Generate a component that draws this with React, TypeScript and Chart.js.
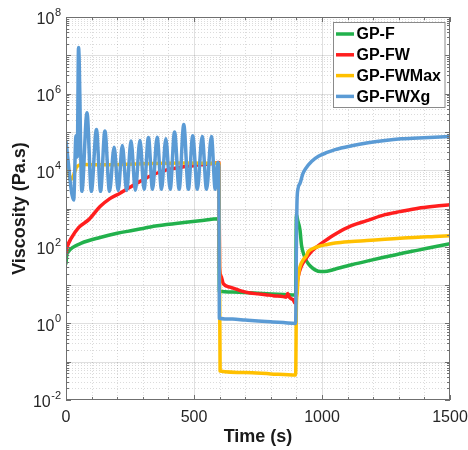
import React, { useEffect, useRef } from 'react';
import { Chart, registerables } from 'chart.js';

Chart.register(...registerables);

const FONT = '"Liberation Sans", Arial, Helvetica, sans-serif';

const seriesNames = ['GP-F', 'GP-FW', 'GP-FWMax', 'GP-FWXg'];
const seriesColors = ['#22B14C', '#FF1E1E', '#FFC000', '#5B9BD5'];

// GP-F
const fTime = [0, 3, 10, 25, 60, 133, 200, 263, 330, 393, 460, 523, 597, 599, 650, 750, 850, 897, 900, 905, 914, 920, 930, 940, 955, 973, 995, 1020, 1050, 1116, 1180, 1246, 1310, 1376, 1440, 1500];
const fValue = [37, 62, 76, 95, 125, 175, 225, 270, 330, 380, 430, 480, 540, 6.9, 6.6, 6.1, 5.7, 5.5, 700, 500, 275, 110, 60, 42, 31, 25, 22.5, 23, 26, 34, 43, 54, 67, 82, 100, 120];

// GP-FW
const fwTime = [0, 5, 20, 50, 90, 133, 170, 211, 250, 289, 340, 393, 460, 523, 589, 597, 600, 606, 614, 640, 680, 719, 750, 780, 810, 849, 860, 866, 872, 880, 888, 894, 898, 902, 907, 920, 934, 955, 980, 1010, 1051, 1116, 1175, 1246, 1305, 1376, 1440, 1500];
const fwValue = [70, 100, 165, 320, 520, 1120, 1780, 2500, 3600, 5100, 7600, 10200, 12300, 13800, 15500, 15800, 30, 17, 11, 8.9, 7.2, 6.2, 5.9, 5.6, 5.3, 5.0, 4.8, 6.0, 4.9, 4.4, 4.1, 3.4, 3.9, 10, 16.6, 32, 46, 71, 100, 141, 214, 355, 480, 690, 830, 1020, 1150, 1260];

// GP-FWMax
const fwMaxTime = [0, 8, 17, 28, 43, 70, 150, 300, 450, 597, 602, 700, 800, 897, 900, 903, 907, 914, 927, 940, 947, 965, 986, 1020, 1051, 1116, 1175, 1246, 1305, 1376, 1440, 1500];
const fwMaxValue = [23000, 11000, 5600, 7000, 12600, 14100, 13800, 14800, 15500, 15100, 0.057, 0.052, 0.048, 0.045, 3, 6, 16, 30, 46, 60, 76, 90, 102, 115, 126, 138, 146, 158, 166, 178, 186, 195];

// GP-FWXg
const fwXgTime = [0, 30, 39, 44, 49, 62, 82, 99, 119, 135, 152, 170, 188, 204, 220, 237, 254, 271, 289, 305, 322, 338, 356, 373, 390, 407, 424, 442, 460, 478, 495, 513, 532, 549, 568, 583, 593, 597, 599, 650, 700, 750, 800, 850, 897, 900, 902, 906, 914, 925, 934, 960, 986, 1020, 1051, 1116, 1180, 1246, 1310, 1376, 1440, 1500];
const fwXgValue = [56000, 1660, 79000, 22000, 16000000, 2800, 316000, 2800, 115000, 2800, 105000, 2800, 40000, 2950, 44000, 2950, 57500, 3000, 60000, 3160, 71000, 3160, 72000, 3160, 66000, 3160, 100000, 3160, 155000, 3160, 79000, 3160, 76000, 3160, 76000, 3160, 15800, 12600, 1.37, 1.3, 1.22, 1.15, 1.1, 1.05, 1.0, 100, 1200, 3200, 4500, 8000, 10500, 17000, 23000, 29000, 34500, 43500, 52000, 60000, 66000, 69000, 72000, 76000];

const xMin = 0;
const xMax = 1500;
const xMinorStep = 100;
const xLabelStep = 500;
const yMinExp = -2;
const yMaxExp = 8;
const yLabelExponents = [-2, 0, 2, 4, 6, 8];

const seriesTimes = [fTime, fwTime, fwMaxTime, fwXgTime];
const seriesValues = [fValue, fwValue, fwMaxValue, fwXgValue];

const BOX_COLOR = '#6f6f6f';
const TEXT_COLOR = '#262626';

const matlabPlugin = {
  id: 'matlabAxes',
  beforeDatasetsDraw(chart: any) {
    const { ctx, chartArea, scales } = chart;
    const { left, right, top, bottom } = chartArea;
    const xs = scales.x;
    const ys = scales.y;
    ctx.save();
    ctx.lineWidth = 1;
    // minor grid (dotted)
    ctx.strokeStyle = 'rgba(0,0,0,0.14)';
    ctx.setLineDash([1, 2]);
    ctx.beginPath();
    for (let t = xMin + xMinorStep; t < xMax; t += xMinorStep) {
      if (t % xLabelStep === 0) continue;
      const px = Math.round(xs.getPixelForValue(t)) + 0.5;
      ctx.moveTo(px, top);
      ctx.lineTo(px, bottom);
    }
    for (let e = yMinExp; e < yMaxExp; e++) {
      for (let k = 2; k <= 9; k++) {
        const py = Math.round(ys.getPixelForValue(k * Math.pow(10, e))) + 0.5;
        ctx.moveTo(left, py);
        ctx.lineTo(right, py);
      }
    }
    ctx.stroke();
    // major grid (solid)
    ctx.setLineDash([]);
    ctx.strokeStyle = 'rgba(0,0,0,0.12)';
    ctx.beginPath();
    for (let t = xMin + xLabelStep; t < xMax; t += xLabelStep) {
      const px = Math.round(xs.getPixelForValue(t)) + 0.5;
      ctx.moveTo(px, top);
      ctx.lineTo(px, bottom);
    }
    for (let e = yMinExp + 1; e < yMaxExp; e++) {
      const py = Math.round(ys.getPixelForValue(Math.pow(10, e))) + 0.5;
      ctx.moveTo(left, py);
      ctx.lineTo(right, py);
    }
    ctx.stroke();
    ctx.restore();
  },
  afterDatasetsDraw(chart: any) {
    const { ctx, chartArea, scales } = chart;
    const { left, right, top, bottom } = chartArea;
    const xs = scales.x;
    const ys = scales.y;
    ctx.save();
    // box
    ctx.strokeStyle = BOX_COLOR;
    ctx.lineWidth = 1;
    ctx.strokeRect(left + 0.5, top + 0.5, right - left - 1, bottom - top - 1);
    // ticks
    ctx.beginPath();
    for (let t = xMin; t <= xMax; t += xMinorStep) {
      const len = t % xLabelStep === 0 ? 5 : 3;
      const px = Math.round(xs.getPixelForValue(t)) + 0.5;
      ctx.moveTo(px, bottom);
      ctx.lineTo(px, bottom - len);
      ctx.moveTo(px, top);
      ctx.lineTo(px, top + len);
    }
    for (let e = yMinExp; e <= yMaxExp; e++) {
      for (let k = 1; k <= 9; k++) {
        if (e === yMaxExp && k > 1) break;
        const len = k === 1 ? 5 : 3;
        const py = Math.round(ys.getPixelForValue(k * Math.pow(10, e))) + 0.5;
        ctx.moveTo(left, py);
        ctx.lineTo(left + len, py);
        ctx.moveTo(right, py);
        ctx.lineTo(right - len, py);
      }
    }
    ctx.stroke();
    // y tick labels with superscript exponents
    ctx.fillStyle = TEXT_COLOR;
    ctx.textBaseline = 'middle';
    for (const e of yLabelExponents) {
      const py = ys.getPixelForValue(Math.pow(10, e));
      const expText = String(e);
      ctx.font = `11px ${FONT}`;
      const ew = ctx.measureText(expText).width;
      const ex = left - 5 - ew;
      ctx.textAlign = 'left';
      ctx.fillText(expText, ex, py - 4);
      ctx.font = `16px ${FONT}`;
      ctx.textAlign = 'right';
      ctx.fillText('10', ex - 0.5, py + 3);
    }
    // legend
    const lx = 333.5;
    const ly = 22.5;
    const lw = 111.5;
    const lh = 85;
    ctx.fillStyle = '#ffffff';
    ctx.fillRect(lx, ly, lw, lh);
    ctx.strokeStyle = '#8a8a8a';
    ctx.lineWidth = 1;
    ctx.strokeRect(lx, ly, lw, lh);
    ctx.font = `bold 16px ${FONT}`;
    ctx.textAlign = 'left';
    ctx.textBaseline = 'middle';
    seriesNames.forEach((name, i) => {
      const cy = 34 + i * 20.8;
      ctx.strokeStyle = seriesColors[i];
      ctx.lineWidth = 3.5;
      ctx.beginPath();
      ctx.moveTo(336, cy);
      ctx.lineTo(354, cy);
      ctx.stroke();
      ctx.fillStyle = '#000000';
      ctx.fillText(name, 356.5, cy + 1);
    });
    ctx.restore();
  },
};

export default function App() {
  const canvasRef = useRef<HTMLCanvasElement | null>(null);

  useEffect(() => {
    const canvas = canvasRef.current;
    if (!canvas) return;
    const datasets = seriesNames.map((name, i) => ({
      label: name,
      data: seriesTimes[i].map((t, j) => ({ x: t, y: seriesValues[i][j] })),
      borderColor: seriesColors[i],
      backgroundColor: seriesColors[i],
      borderWidth: 3.5,
      pointRadius: 0,
      cubicInterpolationMode: 'monotone' as const,
      borderJoinStyle: 'round' as const,
      borderCapStyle: 'round' as const,
      fill: false,
      order: seriesNames.length - i,
    }));
    const chart = new Chart(canvas, {
      type: 'line',
      data: { datasets },
      options: {
        animation: false,
        responsive: false,
        devicePixelRatio: 1,
        layout: { padding: { top: 17, right: 18, left: 0, bottom: 0 } },
        plugins: { legend: { display: false }, tooltip: { enabled: false } },
        scales: {
          x: {
            type: 'linear',
            min: xMin,
            max: xMax,
            grid: { display: false, drawTicks: false },
            border: { display: false },
            ticks: {
              stepSize: xMinorStep,
              autoSkip: false,
              maxRotation: 0,
              padding: 8,
              color: TEXT_COLOR,
              font: { family: FONT, size: 16 },
              callback: (v: any) => (Number(v) % xLabelStep === 0 ? String(v) : ''),
            },
            title: {
              display: true,
              text: 'Time (s)',
              color: '#1a1a1a',
              font: { family: FONT, size: 18, weight: 'bold' },
              padding: { top: 0, bottom: 2 },
            },
            afterFit: (scale: any) => {
              scale.height = 50;
              scale.paddingLeft = 0;
              scale.paddingRight = 0;
            },
          },
          y: {
            type: 'logarithmic',
            min: Math.pow(10, yMinExp),
            max: Math.pow(10, yMaxExp),
            grid: { display: false, drawTicks: false },
            border: { display: false },
            ticks: { display: false },
            title: {
              display: true,
              text: 'Viscosity (Pa.s)',
              color: '#1a1a1a',
              font: { family: FONT, size: 18, weight: 'bold' },
              padding: { top: 9, bottom: 0 },
            },
            afterFit: (scale: any) => {
              scale.width = 66;
              scale.paddingTop = 0;
              scale.paddingBottom = 0;
            },
          },
        },
      },
      plugins: [matlabPlugin],
    } as any);
    return () => chart.destroy();
  }, []);

  return (
    <div style={{ position: 'fixed', left: 0, top: 0, width: 468, height: 450, background: '#ffffff' }}>
      <canvas ref={canvasRef} width={468} height={450} style={{ display: 'block' }} />
    </div>
  );
}
